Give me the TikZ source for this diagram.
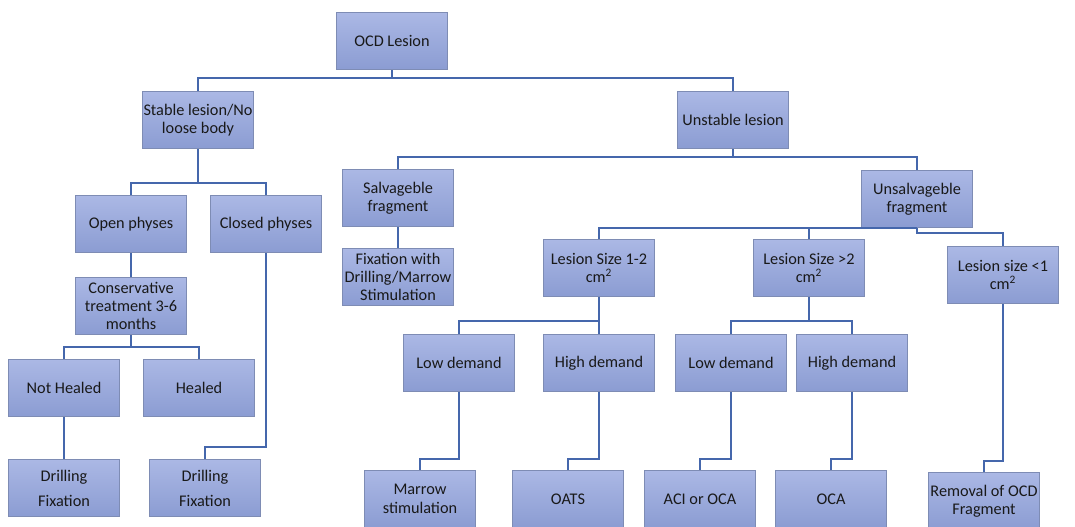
\documentclass[tikz,border=0pt]{standalone}
\usepackage{fontspec}
\setmainfont{Carlito}
\definecolor{boxtop}{HTML}{ABB8E5}
\definecolor{boxbot}{HTML}{8B9CD2}
\definecolor{boxline}{HTML}{7E8CB4}
\definecolor{linkblue}{HTML}{4567AC}

\begin{document}
\begin{tikzpicture}[x=0.75pt,y=-0.75pt,
    box/.style={draw=boxline,line width=0.8pt,top color=boxtop,bottom color=boxbot,
        minimum width=83pt,minimum height=43pt,align=center,inner sep=0.5pt,
        font=\fontsize{12.2}{13.8}\selectfont,text=black!90},
    link/.style={draw=linkblue,line width=1.6pt}]
    \useasboundingbox (0,0) rectangle (1075,527);

    \node[box] (ocd) at (392,41) {OCD Lesion};
    \node[box] (stable) at (198,120) {Stable lesion/No\\loose body};
    \node[box] (unstable) at (733,120) {Unstable lesion};
    \node[box] (open) at (131,224) {Open physes};
    \node[box] (closed) at (266,224) {Closed physes};
    \node[box] (salv) at (398,198) {Salvageble\\fragment};
    \node[box] (fix) at (398,277) {Fixation with\\Drilling/Marrow\\Stimulation};
    \node[box] (unsalv) at (917,199) {Unsalvageble\\fragment};
    \node[box] (ls12) at (599,268) {Lesion Size 1-2\\cm\textsuperscript{2}};
    \node[box] (ls2) at (809,268) {Lesion Size >2\\cm\textsuperscript{2}};
    \node[box] (ls1) at (1003,275) {Lesion size <1\\cm\textsuperscript{2}};
    \node[box] (cons) at (131,306) {Conservative\\treatment 3-6\\months};
    \node[box] (nothealed) at (64,388) {Not Healed};
    \node[box] (healed) at (199,388) {Healed};
    \node[box] (drill1) at (64,488) {Drilling\\[5pt]Fixation};
    \node[box] (drill2) at (205,488) {Drilling\\[5pt]Fixation};
    \node[box] (low1) at (459,363) {Low demand};
    \node[box] (high1) at (599,363) {High demand};
    \node[box] (low2) at (731,363) {Low demand};
    \node[box] (high2) at (852,363) {High demand};
    \node[box] (marrow) at (420,499) {Marrow\\stimulation};
    \node[box] (oats) at (568,499) {OATS};
    \node[box] (aci) at (700,499) {ACI or OCA};
    \node[box] (oca) at (831,499) {OCA};
    \node[box] (removal) at (984,501) {Removal of OCD\\Fragment};

    \draw[link] (ocd.south) -- (ocd.south |- 0,78) -| (stable.north);
    \draw[link] (ocd.south) -- (ocd.south |- 0,78) -| (unstable.north);
    \draw[link] (stable.south) -- (stable.south |- 0,183) -| (open.north);
    \draw[link] (stable.south) -- (stable.south |- 0,183) -| (closed.north);
    \draw[link] (unstable.south) -- (unstable.south |- 0,157) -| (salv.north);
    \draw[link] (unstable.south) -- (unstable.south |- 0,157) -| (unsalv.north);
    \draw[link] (salv) -- (fix);
    \draw[link] (open) -- (cons);
    \draw[link] (cons.south) -- (cons.south |- 0,347) -| (nothealed.north);
    \draw[link] (cons.south) -- (cons.south |- 0,347) -| (healed.north);
    \draw[link] (nothealed) -- (drill1);
    \draw[link] (closed.south) -- (closed.south |- 0,447) -| (drill2.north);
    \draw[link] (unsalv.south) -| (ls12.north);
    \draw[link] (unsalv.south) -| (ls2.north);
    \draw[link] (unsalv.south) -- (unsalv.south |- 0,233) -| (ls1.north);
    \draw[link] (ls12.south) -- (ls12.south |- 0,321) -| (low1.north);
    \draw[link] (ls12.south) -- (ls12.south |- 0,321) -| (high1.north);
    \draw[link] (ls2.south) -- (ls2.south |- 0,321) -| (low2.north);
    \draw[link] (ls2.south) -- (ls2.south |- 0,321) -| (high2.north);
    \draw[link] (low1.south) -- (low1.south |- 0,459) -| (marrow.north);
    \draw[link] (high1.south) -- (high1.south |- 0,459) -| (oats.north);
    \draw[link] (low2.south) -- (low2.south |- 0,459) -| (aci.north);
    \draw[link] (high2.south) -- (high2.south |- 0,459) -| (oca.north);
    \draw[link] (ls1.south) -- (ls1.south |- 0,461) -| (removal.north);
\end{tikzpicture}
\end{document}
